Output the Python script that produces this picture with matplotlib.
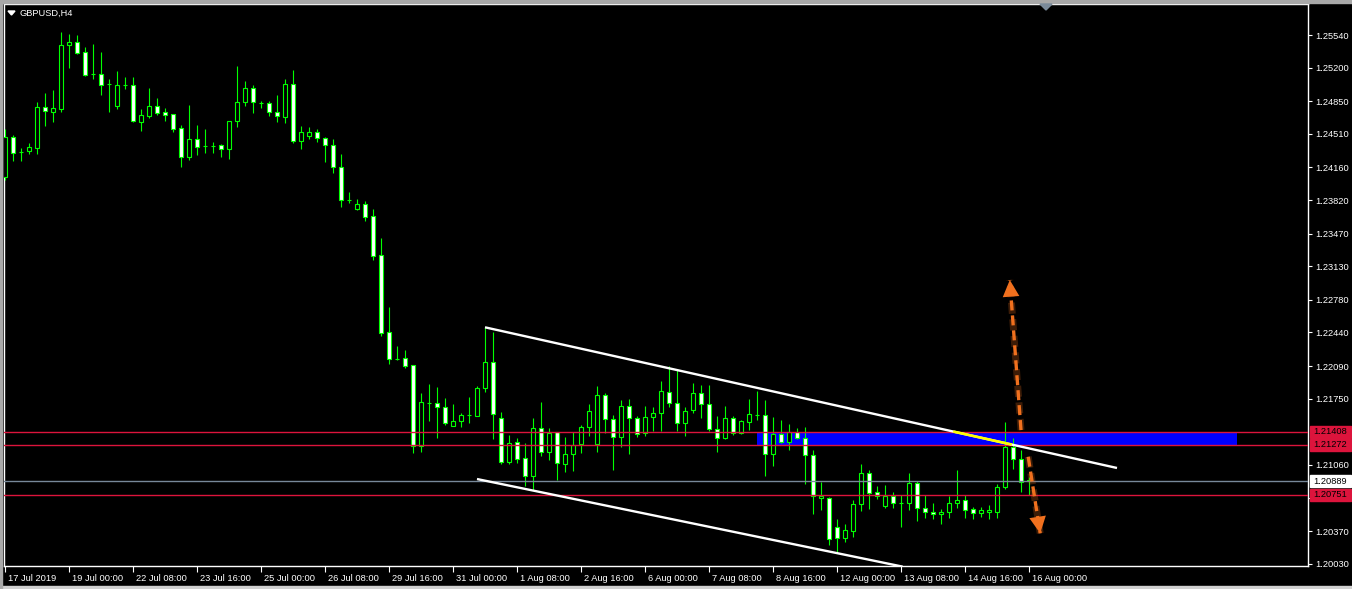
import matplotlib
matplotlib.use("Agg")
import matplotlib.pyplot as plt
from matplotlib.patches import Rectangle, Polygon
from matplotlib import transforms
import numpy as np

plt.rcParams['font.family'] = ['Liberation Sans', 'DejaVu Sans']

SYMBOL = "GBPUSD,H4"

# H4 bars, 17 Jul 2019 16:00 .. 16 Aug 2019 00:00
opens = [1.24063, 1.24473, 1.24320, 1.24327, 1.24366, 1.24786, 1.24741, 1.24772, 1.25439, 1.25463,
         1.25359, 1.25133, 1.25130, 1.25026, 1.24803, 1.25019, 1.25015, 1.24637, 1.24696, 1.24796,
         1.24734, 1.24713, 1.24567, 1.24272, 1.24456, 1.24380, 1.24387, 1.24390, 1.24348, 1.24640,
         1.24838, 1.24984, 1.24831, 1.24828, 1.24734, 1.24689, 1.25029, 1.24432, 1.24491, 1.24525,
         1.24463, 1.24390, 1.24164, 1.23820, 1.23730, 1.23779, 1.23654, 1.23247, 1.22441, 1.22167,
         1.22170, 1.22097, 1.21260, 1.21701, 1.21701, 1.21660, 1.21469, 1.21521, 1.21576, 1.21573,
         1.21865, 1.22129, 1.21545, 1.21087, 1.21295, 1.21128, 1.20941, 1.21441, 1.21198, 1.21399,
         1.21073, 1.21170, 1.21281, 1.21451, 1.21281, 1.21785, 1.21535, 1.21347, 1.21670, 1.21545,
         1.21389, 1.21556, 1.21597, 1.21816, 1.21701, 1.21493, 1.21629, 1.21806, 1.21691, 1.21431,
         1.21337, 1.21545, 1.21389, 1.21510, 1.21580, 1.21576, 1.21170, 1.21382, 1.21295, 1.21400,
         1.21337, 1.21160, 1.20712, 1.20712, 1.20409, 1.20302, 1.20375, 1.20649, 1.20972, 1.20774,
         1.20635, 1.20733, 1.20660, 1.20660, 1.20868, 1.20608, 1.20566, 1.20545, 1.20566, 1.20667,
         1.20694, 1.20597, 1.20555, 1.20566, 1.20566, 1.20826, 1.21243, 1.21118, 1.20900]
highs = [1.24560, 1.24494, 1.24362, 1.24411, 1.24842, 1.24932, 1.24967, 1.25571, 1.25550, 1.25540,
         1.25411, 1.25446, 1.25363, 1.25081, 1.25162, 1.25099, 1.25105, 1.24765, 1.24984, 1.24880,
         1.24776, 1.24713, 1.24602, 1.24810, 1.24602, 1.24560, 1.24425, 1.24404, 1.24644, 1.25217,
         1.25060, 1.25019, 1.24856, 1.24856, 1.24915, 1.25081, 1.25175, 1.24592, 1.24585, 1.24560,
         1.24480, 1.24456, 1.24300, 1.23904, 1.23831, 1.23810, 1.23723, 1.23424, 1.22705, 1.22299,
         1.22257, 1.22097, 1.21809, 1.21903, 1.21870, 1.21757, 1.21694, 1.21604, 1.21767, 1.21882,
         1.22494, 1.22441, 1.21608, 1.21368, 1.21344, 1.21285, 1.21549, 1.21715, 1.21441, 1.21399,
         1.21347, 1.21399, 1.21472, 1.21695, 1.21882, 1.21806, 1.21580, 1.21736, 1.21747, 1.21570,
         1.21674, 1.21660, 1.21934, 1.22087, 1.22063, 1.21660, 1.21913, 1.21889, 1.21889, 1.21566,
         1.21670, 1.21570, 1.21528, 1.21747, 1.21830, 1.21737, 1.21559, 1.21528, 1.21486, 1.21441,
         1.21455, 1.21212, 1.20882, 1.20729, 1.20493, 1.20444, 1.20694, 1.21070, 1.21007, 1.20840,
         1.20851, 1.20774, 1.20746, 1.20976, 1.20896, 1.20746, 1.20663, 1.20601, 1.20736, 1.21007,
         1.20746, 1.20621, 1.20621, 1.20642, 1.20861, 1.21507, 1.21337, 1.21215, 1.20931]
lows = [1.24029, 1.24230, 1.24230, 1.24300, 1.24300, 1.24595, 1.24637, 1.24741, 1.25199, 1.25342,
        1.25116, 1.25085, 1.24918, 1.24741, 1.24772, 1.24981, 1.24633, 1.24543, 1.24678, 1.24706,
        1.24647, 1.24532, 1.24168, 1.24241, 1.24289, 1.24314, 1.24314, 1.24272, 1.24251, 1.24585,
        1.24803, 1.24730, 1.24783, 1.24699, 1.24637, 1.24626, 1.24411, 1.24355, 1.24456, 1.24428,
        1.24220, 1.24098, 1.23751, 1.23793, 1.23716, 1.23601, 1.23195, 1.22406, 1.22115, 1.22153,
        1.22069, 1.21187, 1.21194, 1.21521, 1.21343, 1.21479, 1.21469, 1.21458, 1.21493, 1.21573,
        1.21823, 1.21333, 1.21066, 1.21066, 1.21083, 1.20843, 1.20798, 1.21153, 1.21114, 1.20899,
        1.20989, 1.21000, 1.21180, 1.21365, 1.21194, 1.21396, 1.21007, 1.21250, 1.21177, 1.21347,
        1.21365, 1.21413, 1.21413, 1.21667, 1.21413, 1.21365, 1.21601, 1.21552, 1.21413, 1.21198,
        1.21326, 1.21371, 1.21382, 1.21424, 1.21528, 1.20948, 1.21052, 1.21285, 1.21212, 1.21327,
        1.20865, 1.20548, 1.20590, 1.20229, 1.20145, 1.20257, 1.20312, 1.20583, 1.20604, 1.20701,
        1.20608, 1.20614, 1.20416, 1.20590, 1.20479, 1.20503, 1.20500, 1.20441, 1.20510, 1.20611,
        1.20510, 1.20500, 1.20514, 1.20496, 1.20510, 1.20806, 1.21014, 1.20781, 1.20743]
closes = [1.24473, 1.24314, 1.24316, 1.24373, 1.24786, 1.24744, 1.24776, 1.25432, 1.25463, 1.25356,
          1.25126, 1.25133, 1.25015, 1.25026, 1.25019, 1.25019, 1.24640, 1.24703, 1.24796, 1.24730,
          1.24703, 1.24564, 1.24272, 1.24456, 1.24376, 1.24380, 1.24383, 1.24348, 1.24644, 1.24838,
          1.24984, 1.24838, 1.24831, 1.24734, 1.24692, 1.25029, 1.24432, 1.24525, 1.24525, 1.24463,
          1.24390, 1.24164, 1.23817, 1.23820, 1.23779, 1.23647, 1.23240, 1.22438, 1.22167, 1.22167,
          1.22094, 1.21260, 1.21712, 1.21701, 1.21660, 1.21500, 1.21514, 1.21576, 1.21576, 1.21865,
          1.22129, 1.21587, 1.21087, 1.21292, 1.21118, 1.20941, 1.21441, 1.21191, 1.21389, 1.21076,
          1.21170, 1.21271, 1.21451, 1.21622, 1.21785, 1.21535, 1.21347, 1.21670, 1.21545, 1.21378,
          1.21556, 1.21597, 1.21830, 1.21701, 1.21493, 1.21622, 1.21806, 1.21691, 1.21431, 1.21337,
          1.21545, 1.21389, 1.21517, 1.21587, 1.21584, 1.21170, 1.21382, 1.21295, 1.21400, 1.21337,
          1.21160, 1.20733, 1.20736, 1.20284, 1.20302, 1.20378, 1.20649, 1.20972, 1.20771, 1.20733,
          1.20733, 1.20660, 1.20660, 1.20868, 1.20614, 1.20566, 1.20545, 1.20569, 1.20660, 1.20694,
          1.20594, 1.20555, 1.20587, 1.20590, 1.20826, 1.21243, 1.21118, 1.20878, 1.20889]

time_labels = ["17 Jul 2019", "19 Jul 00:00", "22 Jul 08:00", "23 Jul 16:00", "25 Jul 00:00",
               "26 Jul 08:00", "29 Jul 16:00", "31 Jul 00:00", "1 Aug 08:00", "2 Aug 16:00",
               "6 Aug 00:00", "7 Aug 08:00", "8 Aug 16:00", "12 Aug 00:00", "13 Aug 08:00",
               "14 Aug 16:00", "16 Aug 00:00"]
time_label_bars = [0, 8, 16, 24, 32, 40, 48, 56, 64, 72, 80, 88, 96, 104, 112, 120, 128]

price_ticks = [1.25540, 1.25200, 1.24850, 1.24510, 1.24160, 1.23820, 1.23470, 1.23130,
               1.22780, 1.22440, 1.22090, 1.21750, 1.21060, 1.20720, 1.20370, 1.20030]
hidden_tick = 1.20720  # sits under the 1.20751 marker

level_lines = [1.21408, 1.21272, 1.20751]
bid_price = 1.20889

zone_bars = [94, 154]
zone_prices = [1.21272, 1.21408]

upper_trend_bars = [60, 139]
upper_trend_prices = [1.22494, 1.21028]
lower_trend_bars = [59, 112.2]
lower_trend_prices = [1.20913, 1.20000]

arrow_up_bars = [127.0, 125.6]
arrow_up_prices = [1.21423, 1.22987]
arrow_down_bars = [127.9, 129.4]
arrow_down_prices = [1.21145, 1.20347]

GREEN = '#00ff00'
RED = '#dc143c'
ORANGE = '#f0701e'
FS = 6.7

W, H = 1352, 589
fig = plt.figure(figsize=(W / 100, H / 100), dpi=100, facecolor='black')
ax = fig.add_axes([4 / W, (H - 566) / H, 1304 / W, 562 / H])
ax.set_facecolor('black')
ax.set_xlim(-0.125, 162.875)
ax.set_ylim(1.200066, 1.258631)
y_per_px = (1.258631 - 1.200066) / 562

# window frame
fig.patches.append(Rectangle((0, 1 - 3 / H), 1, 3 / H, transform=fig.transFigure, color='#a8a8a8'))
fig.patches.append(Rectangle((0, 0), 1, 3 / H, transform=fig.transFigure, color='#d0d0d0'))
fig.patches.append(Rectangle((0, 0), 2 / W, 1, transform=fig.transFigure, color='#a8a8a8'))

# candles
x = np.arange(len(opens))
o = np.array(opens)
c = np.array(closes)
up = c >= o
ax.vlines(x, lows, highs, color=GREEN, lw=0.8, zorder=5)
ax.bar(x, np.abs(c - o), bottom=np.minimum(o, c), width=0.58,
       color=np.where(up, 'black', 'white'), edgecolor=GREEN, linewidth=0.8, zorder=6)

# zone
ax.add_patch(Rectangle((zone_bars[0], zone_prices[0]), zone_bars[1] - zone_bars[0],
                       zone_prices[1] - zone_prices[0], color='#0000ff', lw=0, zorder=3))

# levels
for p in level_lines:
    ax.axhline(p, color=RED, lw=1, zorder=7)
ax.axhline(bid_price, color='#778899', lw=1, zorder=7)

# trend lines
ax.plot(upper_trend_bars, upper_trend_prices, color='white', lw=1.7, zorder=8, solid_capstyle='butt')
ax.plot(lower_trend_bars, lower_trend_prices, color='white', lw=1.7, zorder=8, solid_capstyle='butt')
yb = np.interp(zone_prices, upper_trend_prices[::-1], upper_trend_bars[::-1])
ax.plot(yb, zone_prices, color='#ffff00', lw=1.9, zorder=9, solid_capstyle='butt')

# arrows
for bx, py in [(arrow_up_bars, arrow_up_prices), (arrow_down_bars, arrow_down_prices)]:
    ax.plot(bx, py, color=ORANGE, lw=5, alpha=0.25, dashes=(1.6, 0.8), zorder=9)
    ax.plot(bx, py, color=ORANGE, lw=2.4, dashes=(3, 1.5), zorder=10, dash_capstyle='butt')
    tip = (bx[1], py[1])
    back = (bx[1] - (bx[1] - bx[0]) * 0.15, py[1] - (py[1] - py[0]) * 0.15)
    ax.annotate('', xy=tip, xytext=back, zorder=11,
                arrowprops=dict(arrowstyle='-|>,head_length=0.6,head_width=0.3', color=ORANGE,
                                lw=0, shrinkA=0, shrinkB=0, mutation_scale=20))

# axes styling
for s in ax.spines.values():
    s.set_color('white')
    s.set_linewidth(1)
ax.yaxis.tick_right()
ax.set_yticks(price_ticks)
ax.set_yticklabels(["" if v == hidden_tick else f"{v:.5f}" for v in price_ticks])
ax.tick_params(axis='y', colors='white', length=3, width=0.8, pad=2, labelsize=FS)
ax.set_xticks(time_label_bars)
ax.set_xticklabels(time_labels)
ax.tick_params(axis='x', colors='white', length=4, width=0.8, pad=1.5, labelsize=FS)
shift = transforms.ScaledTranslation(2 / 72, 0, fig.dpi_scale_trans)
for lbl in ax.get_xticklabels():
    lbl.set_horizontalalignment('left')
    lbl.set_transform(lbl.get_transform() + shift)

# price labels on the scale
ytr = ax.get_yaxis_transform()
for p, fc, tc in [(level_lines[0], RED, 'black'), (level_lines[1], RED, 'black'),
                  (bid_price, 'white', 'black'), (level_lines[2], RED, 'black')]:
    ax.add_patch(Rectangle((1 + 2 / 1304, p - 6 * y_per_px), 41 / 1304, 12 * y_per_px,
                           transform=ytr, color=fc, clip_on=False, zorder=20))
    ax.text(1 + 5 / 1304, p, f"{p:.5f}", transform=ytr, color=tc, fontsize=FS,
            va='center', ha='left', clip_on=False, zorder=21)

# header
fig.text(20 / W, 1 - 13 / H, SYMBOL, color='white', fontsize=FS, va='center', ha='left')
fig.patches.append(Polygon([(8 / W, 1 - 11 / H), (15 / W, 1 - 11 / H), (11.5 / W, 1 - 15 / H)],
                           closed=True, transform=fig.transFigure, color='white'))
fig.patches.append(Polygon([(1040 / W, 1 - 4 / H), (1052 / W, 1 - 4 / H), (1046 / W, 1 - 10 / H)],
                           closed=True, transform=fig.transFigure, color='#7a8a9a'))

fig.savefig('out.png', dpi=100, facecolor='black')
